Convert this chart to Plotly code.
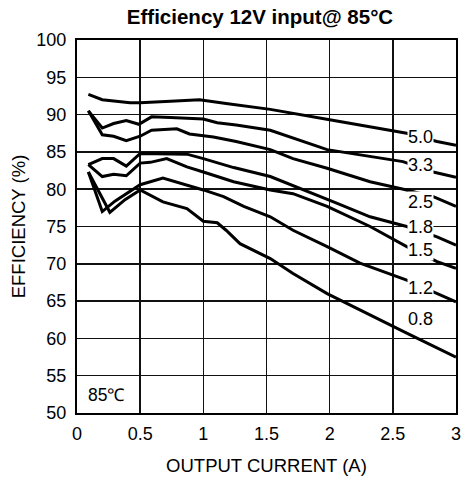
import plotly.graph_objects as go

# Output current (A) and efficiency (%) per output voltage
x_50 = [0.09, 0.2, 0.42, 0.5, 0.74, 0.97, 1.18, 1.37, 1.53, 2.0, 2.61, 2.85, 3.0]
y_50 = [92.7, 92.0, 91.6, 91.6, 91.8, 92.0, 91.5, 91.1, 90.7, 89.3, 87.5, 86.4, 85.9]

x_33 = [0.09, 0.2, 0.29, 0.39, 0.49, 0.59, 0.74, 1.0, 1.11, 1.26, 1.53, 1.98, 2.58, 2.82, 3.0]
y_33 = [90.5, 88.2, 88.8, 89.2, 88.7, 89.7, 89.6, 89.4, 88.9, 88.6, 87.9, 85.3, 83.7, 82.3, 81.6]

x_25 = [0.09, 0.2, 0.29, 0.39, 0.5, 0.59, 0.79, 0.89, 1.08, 1.26, 1.53, 1.71, 1.98, 2.32, 2.61, 2.82, 3.0]
y_25 = [90.5, 87.3, 87.1, 86.5, 87.1, 87.9, 88.1, 87.4, 87.0, 86.4, 85.3, 84.1, 82.8, 81.0, 79.9, 79.0, 77.7]

x_18 = [0.09, 0.2, 0.29, 0.39, 0.5, 0.87, 1.0, 1.24, 1.53, 1.77, 2.06, 2.32, 2.61, 2.85, 3.0]
y_18 = [83.3, 84.1, 84.1, 83.1, 84.8, 84.7, 84.1, 82.9, 81.7, 80.1, 78.1, 76.3, 75.0, 73.6, 72.5]

x_15 = [0.09, 0.2, 0.29, 0.39, 0.5, 0.58, 0.71, 0.87, 1.0, 1.24, 1.53, 1.71, 1.98, 2.32, 2.61, 2.85, 3.0]
y_15 = [83.3, 81.7, 82.0, 81.8, 83.5, 83.6, 84.1, 83.0, 82.3, 81.0, 79.9, 79.4, 77.7, 75.0, 72.3, 70.3, 69.4]

x_12 = [0.09, 0.2, 0.3, 0.41, 0.5, 0.68, 0.87, 1.0, 1.16, 1.32, 1.53, 1.71, 1.98, 2.24, 2.61, 2.85, 3.0]
y_12 = [82.3, 77.0, 78.4, 79.6, 80.6, 81.5, 80.6, 79.9, 79.0, 77.7, 76.3, 74.5, 72.3, 70.1, 67.8, 66.0, 64.9]

x_08 = [0.09, 0.26, 0.38, 0.5, 0.68, 0.87, 1.0, 1.11, 1.18, 1.29, 1.53, 1.71, 1.98, 2.24, 2.61, 3.0]
y_08 = [82.3, 76.9, 78.6, 79.9, 78.3, 77.4, 75.7, 75.5, 74.5, 72.7, 70.7, 68.7, 66.0, 63.8, 60.7, 57.5]

series = [("5.0", x_50, y_50), ("3.3", x_33, y_33), ("2.5", x_25, y_25),
          ("1.8", x_18, y_18), ("1.5", x_15, y_15), ("1.2", x_12, y_12),
          ("0.8", x_08, y_08)]

label_x = 2.72
label_y = [87.0, 83.2, 78.3, 74.9, 71.8, 66.8, 62.6]

x_ticks = [0, 0.5, 1, 1.5, 2, 2.5, 3]
x_tick_text = ["0", "0.5", "1", "1.5", "2", "2.5", "3"]
y_ticks = [50, 55, 60, 65, 70, 75, 80, 85, 90, 95, 100]

FONT = "Liberation Sans, Arial, sans-serif"
W, H = 463, 483

fig = go.Figure()
for name, xs, ys in series:
    fig.add_trace(go.Scatter(x=xs, y=ys, mode="lines", name=name,
                             line=dict(color="black", width=3)))

annotations = []
for (name, _, _), ly in zip(series, label_y):
    annotations.append(dict(x=label_x, y=ly, text=name, showarrow=False,
                            font=dict(size=18, color="black", family=FONT),
                            bgcolor="white", borderpad=0))
annotations.append(dict(x=0.23, y=52.4, text="85℃", showarrow=False,
                        font=dict(size=17.5, color="black", family=FONT)))

fig.update_layout(
    width=W, height=H,
    margin=dict(l=77, r=7, t=40, b=70),
    paper_bgcolor="white", plot_bgcolor="white",
    showlegend=False,
    font=dict(family=FONT, color="black", size=18),
    title=dict(text="<b>Efficiency 12V input@ 85°C</b>", x=260 / W, xanchor="center",
               y=1 - 17 / H, yanchor="middle", font=dict(size=20.5, color="black")),
    annotations=annotations,
)
fig.update_xaxes(range=[0, 3], tickvals=x_ticks, ticktext=x_tick_text,
                 showgrid=True, gridcolor="#111", gridwidth=1.5,
                 showline=True, linecolor="black", linewidth=2, mirror=True,
                 zeroline=False, ticks="outside", ticklen=3, tickcolor="rgba(0,0,0,0)",
                 tickfont=dict(size=18), automargin=False,
                 title=dict(text="OUTPUT CURRENT (A)", font=dict(size=18.5), standoff=16))
fig.update_yaxes(range=[50, 100], tickvals=y_ticks,
                 showgrid=True, gridcolor="#111", gridwidth=1.5,
                 showline=True, linecolor="black", linewidth=2, mirror=True,
                 zeroline=False, ticks="outside", ticklen=5, tickcolor="rgba(0,0,0,0)",
                 tickfont=dict(size=18), automargin=False,
                 title=dict(text="EFFICIENCY (%)", font=dict(size=18.5), standoff=6))

fig.write_html("out.html",
               config={"displayModeBar": False, "staticPlot": True},
               post_script="document.body.style.margin='0';document.body.style.overflow='hidden';")
